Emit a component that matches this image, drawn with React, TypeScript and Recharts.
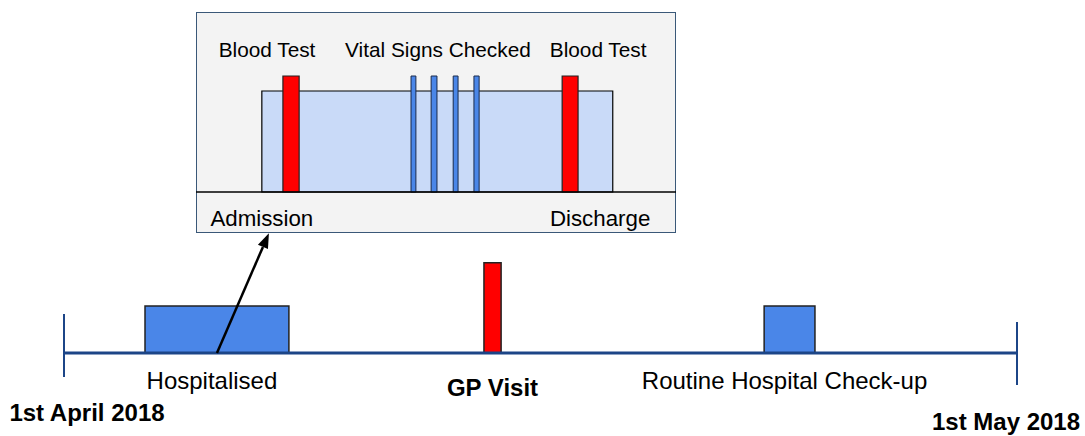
import React from 'react';
import {
  ComposedChart,
  XAxis,
  YAxis,
  Line,
  ReferenceArea,
  ReferenceLine,
  ReferenceDot,
} from 'recharts';

// ---------- Main timeline (days since 1st April 2018) ----------
const timelineDays = [0, 30];
const timelineLabels = ['1st April 2018', '1st May 2018'];

const eventNames = ['Hospitalised', 'GP Visit', 'Routine Hospital Check-up'];
const eventStartDay = [2.55, 13.22, 22.04];
const eventEndDay = [7.08, 13.76, 23.64];
const eventHeight = [1, 1.92, 1];
const eventKind = ['stay', 'visit', 'stay'];

// ---------- Inset: hospital stay (hours since admission) ----------
const stayHours = [0.3, 108.5];
const stayLabels = ['Admission', 'Discharge'];
const stayLabelHours = [0.3, 104.6];

const bloodTestStart = [6.8, 92.9];
const bloodTestEnd = [11.8, 97.8];
const vitalStart = [46.3, 52.5, 59.3, 65.7];
const vitalEnd = [47.8, 54.3, 60.8, 67.3];

const insetLabels = ['Blood Test', 'Vital Signs Checked', 'Blood Test'];
const insetLabelHours = [1.9, 54.6, 104.0];

const FONT = '"Liberation Sans", Arial, Helvetica, sans-serif';
const BLUE = '#4a86e8';
const RED = '#ff0000';
const NAVY = '#1c4587';

const textShape =
  (text: string, dx: number, dy: number, size: number, bold = false) =>
  (p: any) => (
    <text
      x={p.cx + dx}
      y={p.cy + dy + 0.358 * size}
      textAnchor="middle"
      fontFamily={FONT}
      fontSize={size}
      fontWeight={bold ? 700 : 400}
      fill="#000"
    >
      {text}
    </text>
  );

const arrowShape = (p: any) => {
  const { x1, y1, x2, y2 } = p;
  const ang = Math.atan2(y2 - y1, x2 - x1);
  const L = 15;
  const W = 5.5;
  const bx = x2 - L * Math.cos(ang);
  const by = y2 - L * Math.sin(ang);
  const nx = -Math.sin(ang);
  const ny = Math.cos(ang);
  return (
    <g>
      <line x1={x1} y1={y1} x2={bx} y2={by} stroke="#000" strokeWidth={2.5} />
      <polygon
        points={`${x2},${y2} ${bx + nx * W},${by + ny * W} ${bx - nx * W},${by - ny * W}`}
        fill="#000"
      />
    </g>
  );
};

const timelineData = timelineDays.map((d) => ({ day: d, v: 0 }));
const insetData = [
  { h: -20, v: 0 },
  { h: 128, v: 0 },
];

export default function App() {
  const hospIdx = 0;
  const hospMid = (eventStartDay[hospIdx] + eventEndDay[hospIdx]) / 2;
  return (
    <div style={{ position: 'absolute', left: 0, top: 0, width: 1085, height: 436, background: '#fff' }}>
      <div style={{ position: 'absolute', left: 0, top: 0 }}>
        <ComposedChart
          width={1085}
          height={436}
          data={timelineData}
          margin={{ top: 24, right: 68, bottom: 36, left: 64 }}
        >
          <XAxis dataKey="day" type="number" domain={[0, 30]} hide />
          <YAxis type="number" domain={[-1, 7]} hide />
          {eventNames.map((n, i) => (
            <ReferenceArea
              key={'ev' + i}
              x1={eventStartDay[i]}
              x2={eventEndDay[i]}
              y1={0}
              y2={eventHeight[i]}
              fill={eventKind[i] === 'visit' ? RED : BLUE}
              fillOpacity={1}
              stroke="#222"
              strokeWidth={1.5}
              ifOverflow="visible"
            />
          ))}
          <Line
            dataKey="v"
            stroke={NAVY}
            strokeWidth={3}
            dot={false}
            activeDot={false}
            isAnimationActive={false}
          />
          <ReferenceLine
            segment={[
              { x: timelineDays[0], y: 0.83 },
              { x: timelineDays[0], y: -0.51 },
            ]}
            stroke={NAVY}
            strokeWidth={2}
            ifOverflow="visible"
          />
          <ReferenceLine
            segment={[
              { x: timelineDays[1], y: 0.66 },
              { x: timelineDays[1], y: -0.68 },
            ]}
            stroke={NAVY}
            strokeWidth={2}
            ifOverflow="visible"
          />
          <ReferenceLine
            segment={[
              { x: hospMid, y: 0 },
              { x: 6.45, y: 2.55 },
            ]}
            shape={arrowShape}
            ifOverflow="visible"
          />
          {eventNames.map((n, i) => (
            <ReferenceDot
              key={'lbl' + i}
              x={(eventStartDay[i] + eventEndDay[i]) / 2}
              y={0}
              r={0}
              ifOverflow="visible"
              shape={
                eventKind[i] === 'visit'
                  ? textShape(n, 0, 34, 24, true)
                  : textShape(n, -5, 27, 24)
              }
            />
          ))}
          <ReferenceDot
            x={timelineDays[0]}
            y={0}
            r={0}
            ifOverflow="visible"
            shape={textShape(timelineLabels[0], 23, 59, 24, true)}
          />
          <ReferenceDot
            x={timelineDays[1]}
            y={0}
            r={0}
            ifOverflow="visible"
            shape={textShape(timelineLabels[1], -11, 68, 24, true)}
          />
        </ComposedChart>
      </div>

      <div
        style={{
          position: 'absolute',
          left: 196,
          top: 12,
          width: 480,
          height: 221,
          boxSizing: 'border-box',
          background: '#f3f3f3',
          border: '1.5px solid #3a5878',
        }}
      />
      <div style={{ position: 'absolute', left: 196, top: 12 }}>
        <ComposedChart
          width={480}
          height={221}
          data={insetData}
          margin={{ top: 0, right: 0, bottom: 0, left: 0 }}
        >
          <XAxis dataKey="h" type="number" domain={[-20, 128]} hide />
          <YAxis type="number" domain={[-2.05, 9]} hide />
          <ReferenceArea
            x1={stayHours[0]}
            x2={stayHours[1]}
            y1={0}
            y2={5.05}
            fill="#c9daf8"
            fillOpacity={1}
            stroke="#000"
            strokeWidth={1.2}
            ifOverflow="visible"
          />
          {bloodTestStart.map((s, i) => (
            <ReferenceArea
              key={'bt' + i}
              x1={s}
              x2={bloodTestEnd[i]}
              y1={0}
              y2={5.8}
              fill={RED}
              fillOpacity={1}
              stroke="#222"
              strokeWidth={1.2}
              ifOverflow="visible"
            />
          ))}
          {vitalStart.map((s, i) => (
            <ReferenceArea
              key={'vs' + i}
              x1={s}
              x2={vitalEnd[i]}
              y1={0}
              y2={5.8}
              fill={BLUE}
              fillOpacity={1}
              stroke="#1a2a4a"
              strokeWidth={1}
              ifOverflow="visible"
            />
          ))}
          <Line
            dataKey="v"
            stroke="#000"
            strokeWidth={1.5}
            dot={false}
            activeDot={false}
            isAnimationActive={false}
          />
          {insetLabels.map((t, i) => (
            <ReferenceDot
              key={'il' + i}
              x={insetLabelHours[i]}
              y={5.8}
              r={0}
              ifOverflow="visible"
              shape={textShape(t, 0, -26, 20.8)}
            />
          ))}
          {stayLabels.map((t, i) => (
            <ReferenceDot
              key={'sl' + i}
              x={stayLabelHours[i]}
              y={0}
              r={0}
              ifOverflow="visible"
              shape={textShape(t, 0, 26, 22.3)}
            />
          ))}
        </ComposedChart>
      </div>
    </div>
  );
}
